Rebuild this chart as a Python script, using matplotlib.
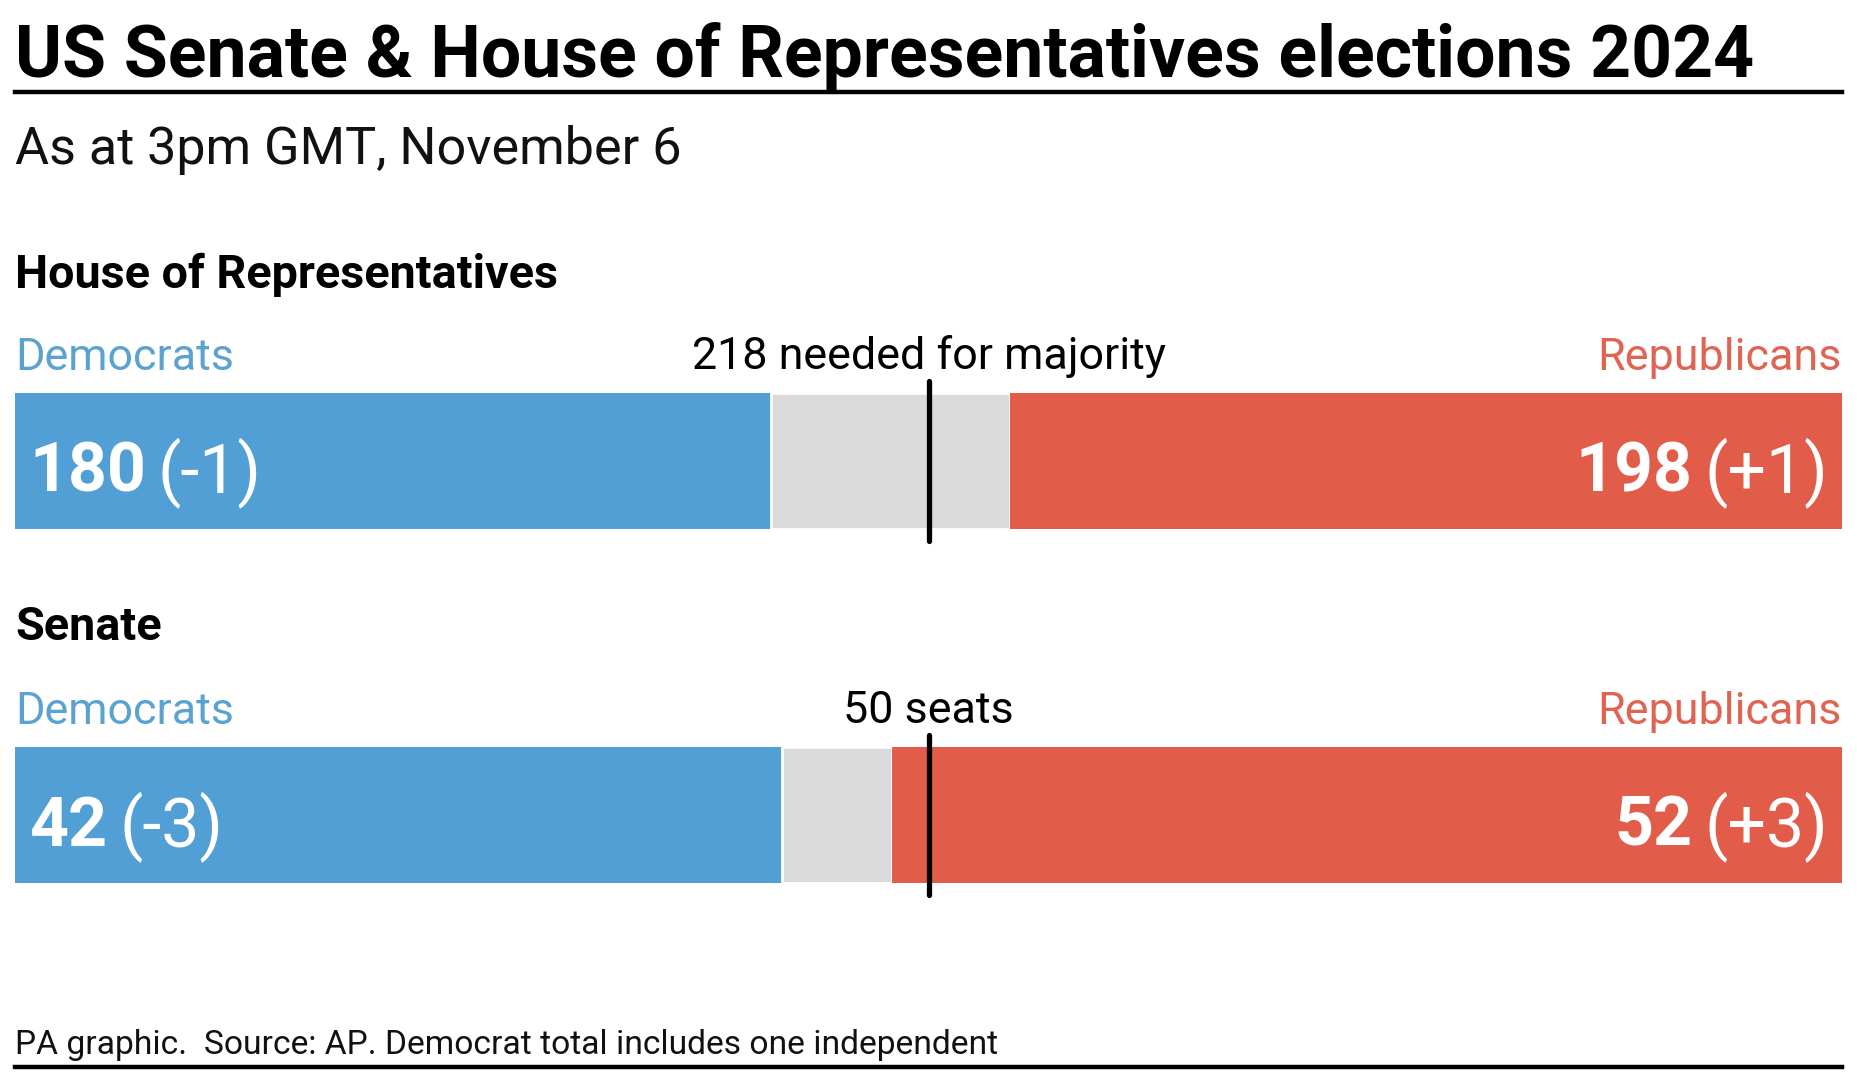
"""
US Senate & House of Representatives elections 2024 - seat bars (PA graphic style)
"""

import matplotlib
matplotlib.use("Agg")
import matplotlib.pyplot as plt
from matplotlib.lines import Line2D

# ----------------- Data -----------------
chambers = ["House of Representatives", "Senate"]
total_seats = [435, 100]
dem_seats = [180, 42]
rep_seats = [198, 52]
dem_change = ["(-1)", "(-3)"]
rep_change = ["(+1)", "(+3)"]
majority_mark = [217.5, 50]
majority_labels = ["218 needed for majority", "50 seats"]

title = "US Senate & House of Representatives elections 2024"
subtitle = "As at 3pm GMT, November 6"
footer = "PA graphic.  Source: AP. Democrat total includes one independent"

# ----------------- Style -----------------
W, H = 1857, 1080
BLUE = "#529fd6"
RED = "#e25c4a"
GREY = "#dadada"
BLUE_TXT = "#5aa2cf"
RED_TXT = "#e06452"

plt.rcParams["font.family"] = ["Roboto", "DejaVu Sans"]

fig = plt.figure(figsize=(W / 100, H / 100), dpi=100)
fig.patch.set_facecolor("white")
renderer = fig.canvas.get_renderer()

LEFT, RIGHT = 15, 1842   # pixel edges of the content


def fx(px):
    return px / W


def fy(py):
    # pixel measured from top -> figure fraction
    return 1 - py / H


def ftext(x, y, s, **kw):
    return fig.text(fx(x), fy(y), s, va="baseline", **kw)


def hrule(y, lw=3.2):
    fig.add_artist(Line2D([fx(LEFT), fx(RIGHT)], [fy(y), fy(y)], color="black",
                          lw=lw, transform=fig.transFigure))


# Header
ftext(LEFT, 77, title, fontsize=51.5, fontweight="bold", color="black")
hrule(92)
ftext(LEFT, 164, subtitle, fontsize=37.5, color="#111111")

# Layout per chamber: heading baseline, label baseline, bar top, bar bottom, value baseline
heading_y = [288, 640]
label_y = [370, 724]
bar_top = [393, 747]
bar_bottom = [529, 883]
value_y = [492, 846]

for i, name in enumerate(chambers):
    ftext(LEFT, heading_y[i], name, fontsize=33.7, fontweight="bold", color="black")
    ftext(LEFT, label_y[i], "Democrats", fontsize=32.3, color=BLUE_TXT)
    ftext(RIGHT, label_y[i], "Republicans", fontsize=32.3, color=RED_TXT, ha="right")

    bh = bar_bottom[i] - bar_top[i]
    ax = fig.add_axes([fx(LEFT), fy(bar_bottom[i]), fx(RIGHT - LEFT), bh / H])
    total = total_seats[i]
    undecided = total - dem_seats[i] - rep_seats[i]
    ax.barh(0, dem_seats[i], left=0, height=1, color=BLUE, linewidth=0)
    ax.barh(0, undecided, left=dem_seats[i], height=1, color=GREY,
            edgecolor="white", linewidth=2)
    ax.barh(0, rep_seats[i], left=total - rep_seats[i], height=1, color=RED, linewidth=0)
    ax.set_xlim(0, total)
    ax.set_ylim(-0.5, 0.5)
    ax.axis("off")

    # majority marker, sticking out a little above and below the bar
    ext = 12 / bh
    ax.plot([majority_mark[i]] * 2, [-0.5 - ext, 0.5 + ext], color="black",
            lw=3.8, clip_on=False, solid_capstyle="round")
    ax.text(majority_mark[i], 0.5 + 24 / bh, majority_labels[i], ha="center",
            va="baseline", fontsize=32.3, color="black")

    # Dem value: bold number then regular change
    t = ftext(29, value_y[i], str(dem_seats[i]), fontsize=49, fontweight="bold", color="white")
    bb = t.get_window_extent(renderer=renderer)
    ftext(bb.x1 + 12, value_y[i], dem_change[i], fontsize=49, color="white")

    # Rep value: right aligned, change last
    t = ftext(1828, value_y[i], rep_change[i], fontsize=49, color="white", ha="right")
    bb = t.get_window_extent(renderer=renderer)
    ftext(bb.x0 - 12, value_y[i], str(rep_seats[i]), fontsize=49, fontweight="bold",
          color="white", ha="right")

# Footer
ftext(LEFT, 1054, footer, fontsize=24.2, color="#111111")
hrule(1067)

fig.savefig("out.png", dpi=100, facecolor="white")
